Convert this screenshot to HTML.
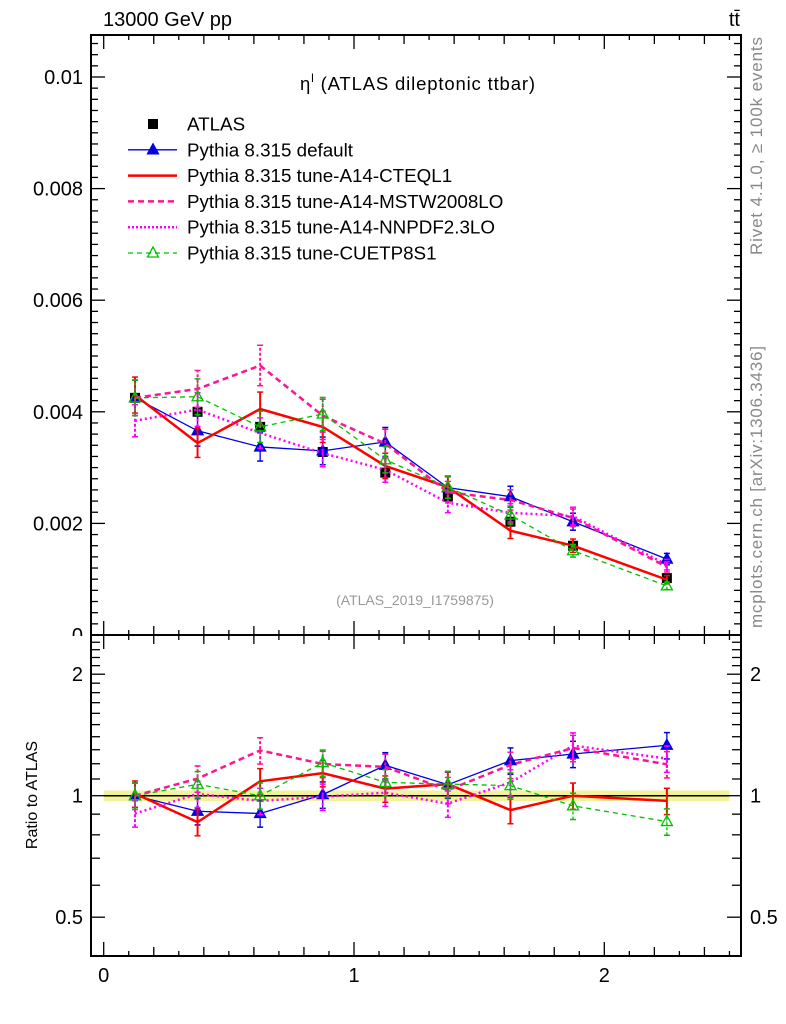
<!DOCTYPE html>
<html><head><meta charset="utf-8"><style>
body{margin:0;background:#fff;}
svg{display:block;font-family:"Liberation Sans",sans-serif;}
</style></head><body>
<svg id="chart" width="786" height="1024" viewBox="0 0 786 1024" xmlns="http://www.w3.org/2000/svg">
<text x="103" y="26" font-size="20">13000 GeV pp</text>
<text x="740" y="26" font-size="20" text-anchor="end">tt̄</text>
<text x="300" y="90" font-size="18.5" textLength="235">η<tspan font-size="12" dy="-8">l</tspan><tspan dy="8"> (ATLAS dileptonic ttbar)</tspan></text>
<text x="415" y="605" font-size="14" fill="#999" text-anchor="middle">(ATLAS_2019_I1759875)</text>
<text transform="translate(762,255) rotate(-90)" font-size="17" textLength="218" fill="#888">Rivet 4.1.0, ≥ 100k events</text>
<text transform="translate(762,628) rotate(-90)" font-size="17" textLength="282" fill="#888">mcplots.cern.ch [arXiv:1306.3436]</text>
<text transform="translate(37,795) rotate(-90)" font-size="16" text-anchor="middle">Ratio to ATLAS</text>
<g id="g"></g>
</svg>
<script>
const binCenters=[0.125,0.375,0.625,0.875,1.125,1.375,1.625,1.875,2.25];
const binEdges=[0,0.25,0.5,0.75,1,1.25,1.5,1.75,2,2.5];
const atlas=[0.00425,0.0040,0.00373,0.00328,0.00291,0.00248,0.00203,0.0016,0.00102];
const atlasErr=[0.00012,0.00012,0.0001,0.0001,0.00009,0.00008,0.00007,0.00006,0.00005];
const pyDefault=[0.00425,0.00366,0.00337,0.0033,0.00346,0.00264,0.00248,0.00203,0.00136];
const pyCTEQ=[0.0043,0.00344,0.00405,0.00373,0.00303,0.00265,0.00187,0.0016,0.00099];
const pyMSTW=[0.00425,0.00441,0.00483,0.00393,0.00343,0.00256,0.00242,0.0021,0.00122];
const pyNNPDF=[0.00384,0.00404,0.00362,0.00326,0.00296,0.00237,0.00219,0.00213,0.00126];
const pyCUETP=[0.00425,0.00427,0.00373,0.00396,0.00314,0.00265,0.00215,0.00151,0.00088];
const yTicks=[0,0.002,0.004,0.006,0.008,0.01];
const yTickLabels=["0","0.002","0.004","0.006","0.008","0.01"];
const rTicks=[0.5,1,2];
const rTickLabels=["0.5","1","2"];
const xTicks=[0,1,2];
const xTickLabels=["0","1","2"];

const NS="http://www.w3.org/2000/svg";
const g=document.getElementById('g');
const L=91,R=741,T=35,MB=635,RB=956;
const X=v=>103.7+v*250.3;
const Y=v=>MB-v/0.002*111.6;
const RY=v=>795.7-Math.log2(v)*121.5;
function mk(tag,attrs,parent){const e=document.createElementNS(NS,tag);for(const k in attrs)e.setAttribute(k,attrs[k]);(parent||g).appendChild(e);return e;}

const band=mk('rect',{x:X(0),y:RY(1.03),width:X(2.5)-X(0),height:RY(0.97)-RY(1.03),fill:'#f2f29a'});


const one=mk('line',{x1:X(0),x2:X(2.5),y1:RY(1),y2:RY(1),stroke:'#000','stroke-width':1.5});



const series=[
 {name:'pythia-default',d:pyDefault,c:'#0000e0',w:1.3,dash:'',mark:'tri'},
 {name:'pythia-cteql1',d:pyCTEQ,c:'#ff0000',w:2.5,dash:'',mark:''},
 {name:'pythia-mstw2008lo',d:pyMSTW,c:'#ff1493',w:2.5,dash:'6,4',mark:''},
 {name:'pythia-nnpdf23lo',d:pyNNPDF,c:'#ff00ff',w:2.5,dash:'2,3',mark:''},
 {name:'pythia-cuetp8s1',d:pyCUETP,c:'#00c000',w:1.3,dash:'5,4',mark:'otri'}
];
function tri(x,y,c,open,parent,nm){const t=mk('path',{d:`M${x},${y-6}L${x+5.5},${y+4}L${x-5.5},${y+4}Z`,fill:open?'none':c,stroke:c,'stroke-width':1.3},parent);}

function drawPanel(yf,vals,pre){
 series.forEach(s=>{
  const grp=mk('g',{});
  
  
  const v=vals(s.d);
  const pts=binCenters.map((c,i)=>X(c)+','+yf(v[i])).join(' ');
  mk('polyline',{points:pts,fill:'none',stroke:s.c,'stroke-width':s.w,'stroke-dasharray':s.dash},grp);
  binCenters.forEach((c,i)=>{
   const e=v[i]*0.075;
   mk('line',{x1:X(c),x2:X(c),y1:yf(v[i]-e),y2:yf(v[i]+e),stroke:s.c,'stroke-width':s.w>2?2:1.3,'stroke-dasharray':s.dash?'3,2':''},grp);
   mk('line',{x1:X(c)-3,x2:X(c)+3,y1:yf(v[i]-e),y2:yf(v[i]-e),stroke:s.c,'stroke-width':1.5},grp);
   mk('line',{x1:X(c)-3,x2:X(c)+3,y1:yf(v[i]+e),y2:yf(v[i]+e),stroke:s.c,'stroke-width':1.5},grp);
   if(s.mark)tri(X(c),yf(v[i]),s.c,s.mark==='otri',grp,pre+s.name+'-marker');
  });
 });
}
const ag=mk('g',{});


binCenters.forEach((c,i)=>{
 mk('line',{x1:X(c),x2:X(c),y1:Y(atlas[i]-atlasErr[i]),y2:Y(atlas[i]+atlasErr[i]),stroke:'#000','stroke-width':1.5},ag);
 const p=mk('rect',{x:X(c)-5,y:Y(atlas[i])-5,width:10,height:10,fill:'#000'},ag);
 
 
});
drawPanel(Y,d=>d,'main-');
drawPanel(RY,d=>d.map((v,i)=>v/atlas[i]),'ratio-');

const f1=mk('rect',{x:L,y:T,width:R-L,height:MB-T,fill:'none',stroke:'#000','stroke-width':2});


const f2=mk('rect',{x:L,y:MB,width:R-L,height:RB-MB,fill:'none',stroke:'#000','stroke-width':2});



for(let k=0;k<=25;k++){const v=k/10,x=X(v);const len=k%10==0?14:(k%2==0?9:5);
 [[T,1],[MB,-1],[MB,1],[RB,-1]].forEach(([y0,dir])=>mk('line',{x1:x,x2:x,y1:y0,y2:y0+dir*len,stroke:'#000','stroke-width':1.3}));}
xTicks.forEach((v,i)=>{const t=mk('text',{x:X(v),y:982,'font-size':20,'text-anchor':'middle'});t.textContent=xTickLabels[i];});
for(let k=0;k<=53;k++){const v=k*0.0002,y=Y(v);if(y<T)break;const len=k%10==0?14:7;
 mk('line',{x1:L,x2:L+len,y1:y,y2:y,stroke:'#000','stroke-width':1.3});mk('line',{x1:R,x2:R-len,y1:y,y2:y,stroke:'#000','stroke-width':1.3});}
yTicks.forEach((v,i)=>{const t=mk('text',{x:83,y:Y(v)+7,'font-size':20,'text-anchor':'end'});t.textContent=yTickLabels[i];});
mk('rect',{x:60,y:MB+1,width:30,height:12,fill:'#fff'});
const rMinor=[0.4,0.5,0.6,0.7,0.8,0.9,1,1.1,1.2,1.3,1.4,1.5,1.6,1.7,1.8,1.9,2,2.1,2.2,2.3,2.4,2.5];
rMinor.forEach(v=>{const y=RY(v);if(y<MB||y>RB)return;const len=rTicks.includes(v)?14:9;
 mk('line',{x1:L,x2:L+len,y1:y,y2:y,stroke:'#000','stroke-width':1.3});mk('line',{x1:R,x2:R-len,y1:y,y2:y,stroke:'#000','stroke-width':1.3});});
rTicks.forEach((v,i)=>{[[83,'end'],[750,'start']].forEach(([x,a])=>{const t=mk('text',{x:x,y:RY(v)+7,'font-size':20,'text-anchor':a});t.textContent=rTickLabels[i];});});

const leg=[['ATLAS','#000',0,'','sq'],['Pythia 8.315 default','#0000e0',1.3,'','tri'],['Pythia 8.315 tune-A14-CTEQL1','#ff0000',2.5,'',''],['Pythia 8.315 tune-A14-MSTW2008LO','#ff1493',2.5,'6,4',''],['Pythia 8.315 tune-A14-NNPDF2.3LO','#ff00ff',2.5,'2,2',''],['Pythia 8.315 tune-CUETP8S1','#00c000',1.3,'5,4','otri']];
leg.forEach((l,i)=>{const y=124+i*25.8;const lg=mk('g',{});
 
 
 if(l[2])mk('line',{x1:128,x2:177,y1:y,y2:y,stroke:l[1],'stroke-width':l[2],'stroke-dasharray':l[3]},lg);
 if(l[4]==='sq')mk('rect',{x:148,y:y-5,width:10,height:10,fill:'#000'},lg);
 if(l[4]==='tri')tri(153,y,l[1],false,lg,'legend-marker');
 if(l[4]==='otri')tri(153,y,l[1],true,lg,'legend-marker');
 const t=mk('text',{x:187,y:y+6.5,'font-size':18.8},lg);t.textContent=l[0];});
</script>
</body></html>
